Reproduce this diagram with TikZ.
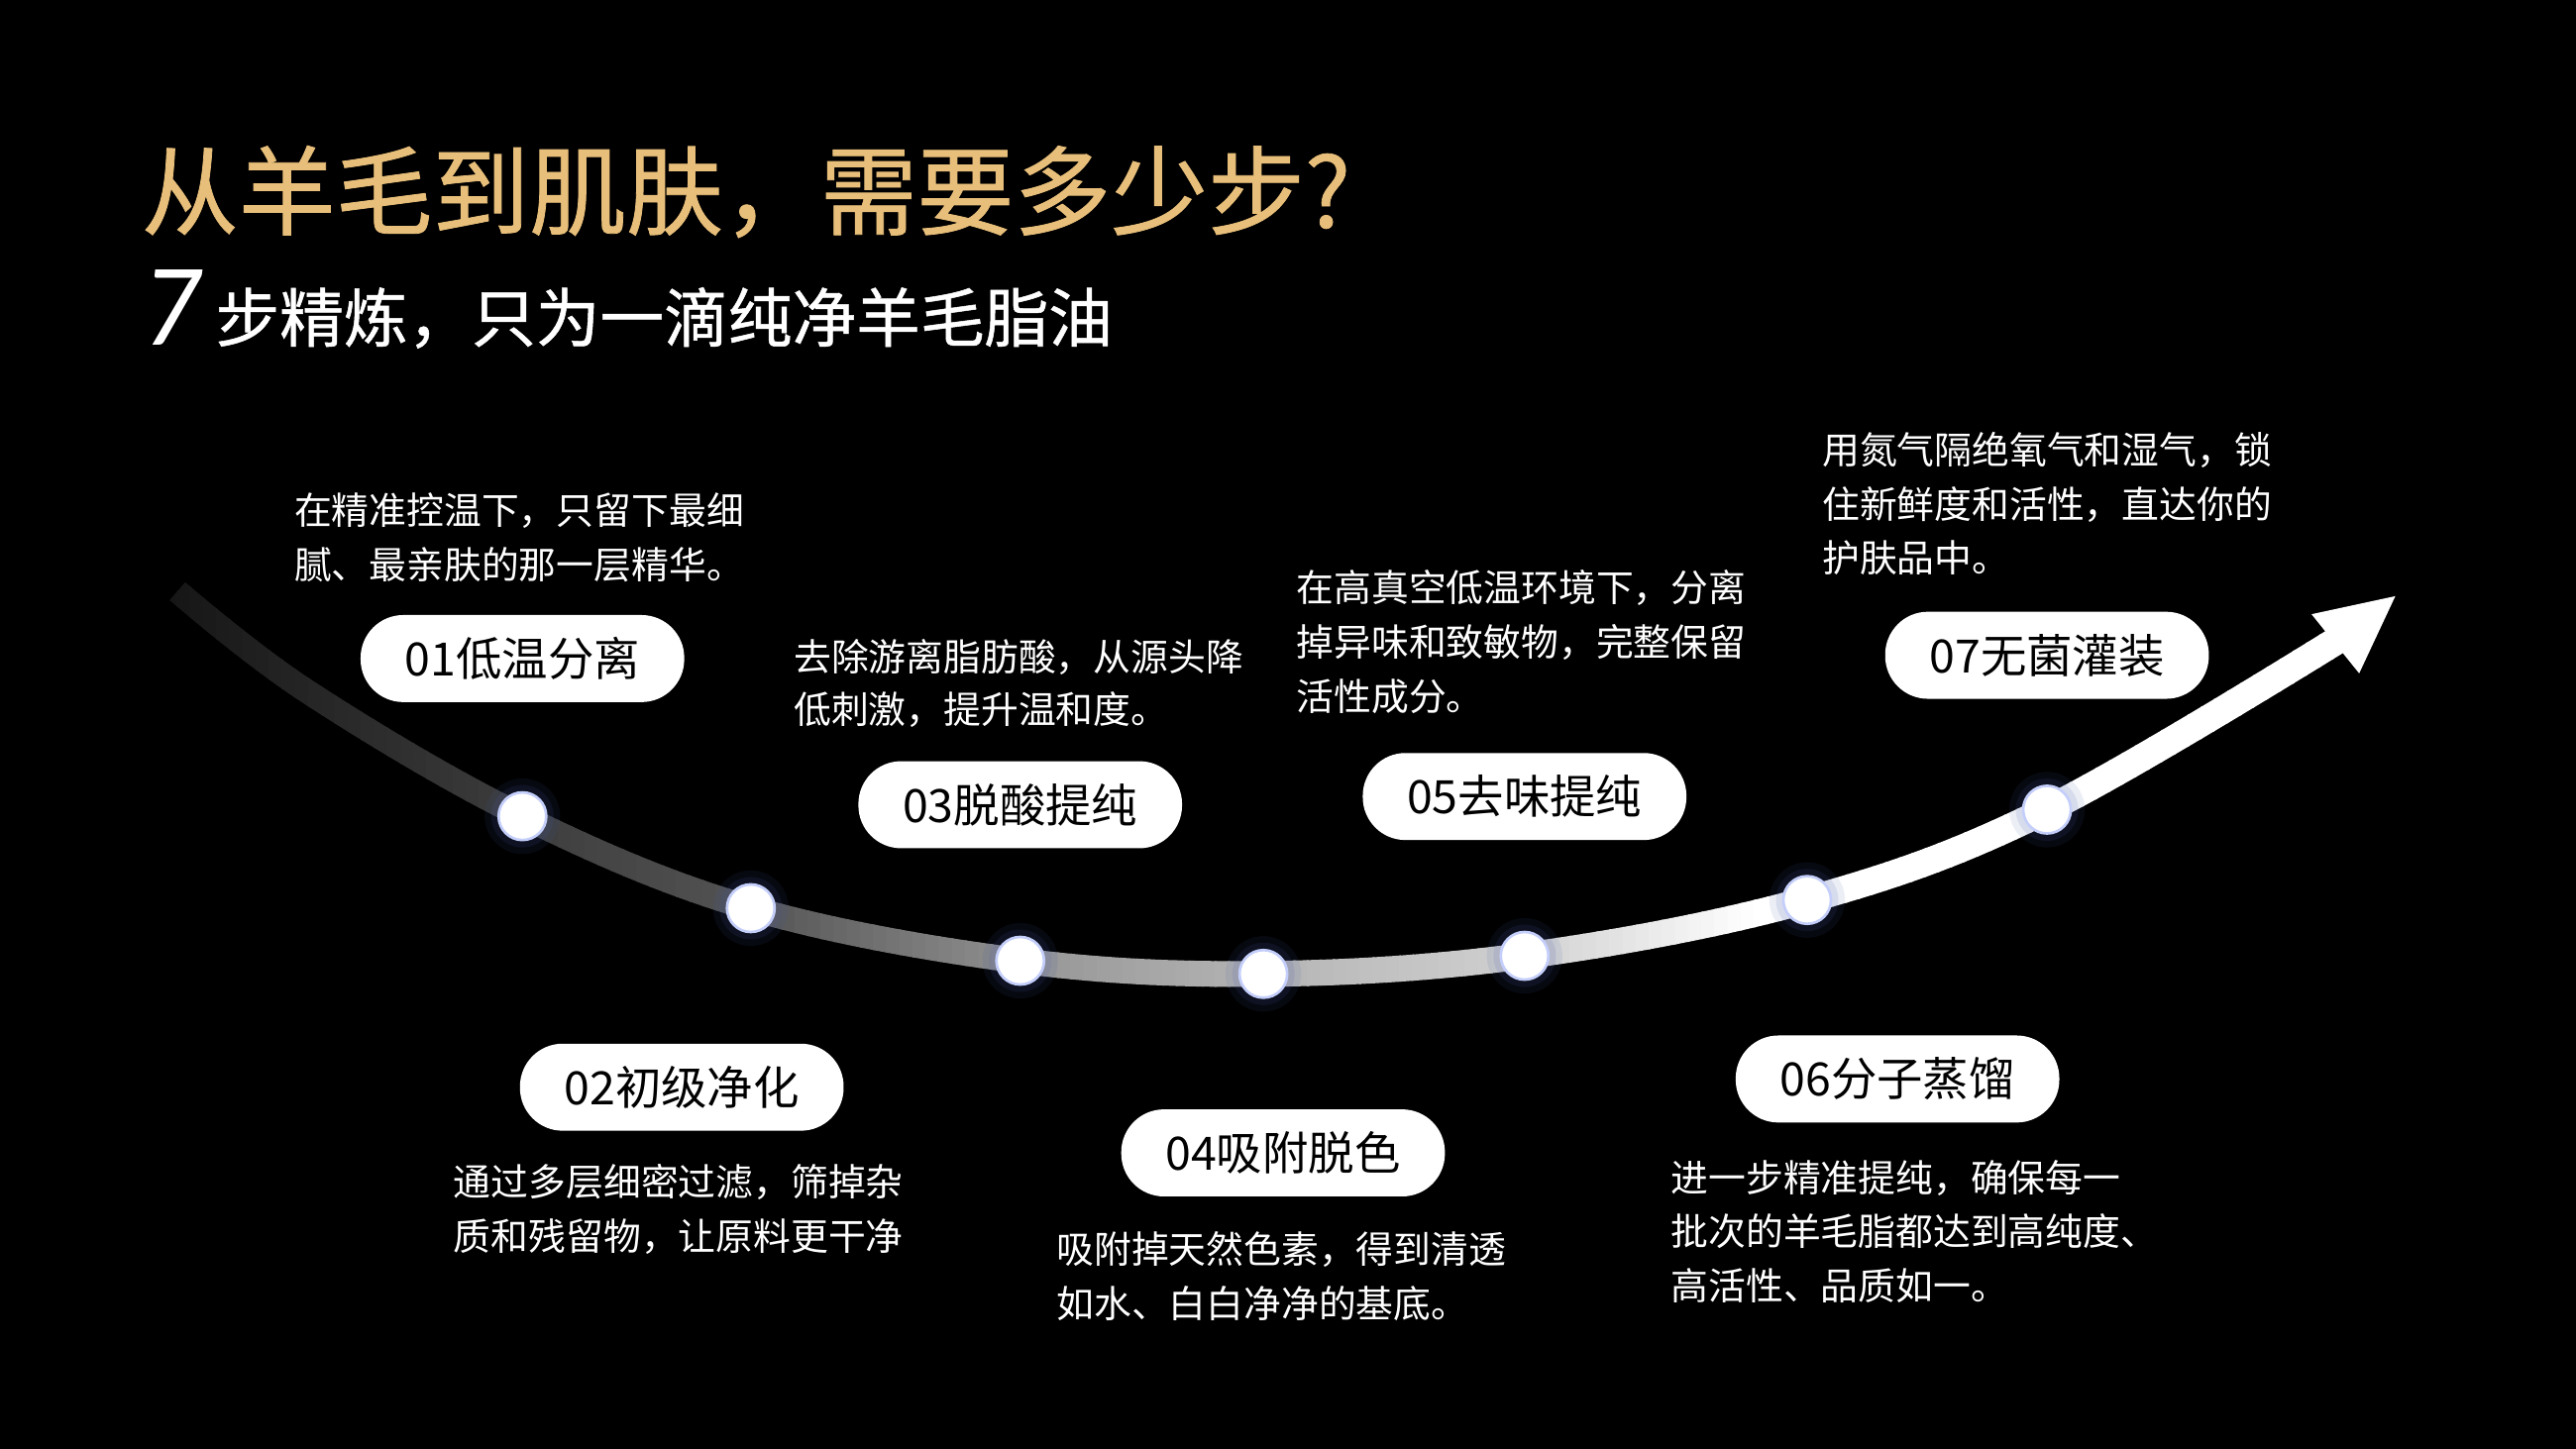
\documentclass[tikz,border=0pt]{standalone}
\usepackage{fontspec}
\newfontfamily\cjk{Noto Sans CJK SC}
\newfontfamily\cjkmed{Noto Sans CJK SC}[FakeBold=0.8]
\newfontfamily\latof{Lato}
\definecolor{gold}{HTML}{E8BF7A}
\definecolor{rim}{RGB}{196,206,250}
\definecolor{glowc}{RGB}{70,90,170}
\tikzset{
  dot/.style={circle, fill=white, draw=rim, line width=1.6pt, minimum size=29pt, inner sep=0pt},
  pill/.style={fill=white, rounded corners=26pt, minimum width=197pt, minimum height=53pt, inner sep=0pt, text=black, font=\cjk\fontsize{28}{28}\selectfont},
  desc/.style={anchor=base west, inner sep=0pt, text=white, font=\cjk\fontsize{22.8}{33}\selectfont},
}
\def\mycurve{plot[smooth,tension=0.6] coordinates {(108,360) (187,421) (318,497) (457,553) (621,585) (769,593) (928,582) (1100,548) (1246,493) (1432,384)}}
\begin{document}
\begin{tikzpicture}[x=1pt,y=-1pt]
\useasboundingbox (0,0) rectangle (1568,882);
\fill[black] (0,0) rectangle (1568,882);

% gradient band
\foreach \xa in {100,108,...,1470}{
  \pgfmathsetmacro\g{\xa<318 ? 0.09+0.15*(\xa-105)/213 : (\xa<457 ? 0.24+0.09*(\xa-318)/139 : (\xa<637 ? 0.33+0.27*(\xa-457)/180 : (\xa<769 ? 0.6+0.11*(\xa-637)/132 : (\xa<928 ? 0.71+0.11*(\xa-769)/159 : min(1,0.82+0.16*(\xa-928)/122)))))}
  \pgfmathsetmacro\w{14.5+2.5*min(1,(\xa-105)/1320)}
  \definecolor{stripc}{gray}{\g}
  \begin{scope}
    \clip (\xa-0.6,0) rectangle (\xa+8.6,882);
    \draw[stripc, line width=\w pt] \mycurve;
  \end{scope}
}
% arrow head
\fill[white] (1458,363) -- (1407,374) -- (1436,410) -- cycle;

% dots
\foreach \n/\p in {1/{(318,497)},2/{(457,553)},3/{(621,585)},4/{(769,593)},5/{(928,582)},6/{(1100,548)},7/{(1246,493)}}{
  \fill[glowc, opacity=0.10] \p circle (23);
  \fill[glowc, opacity=0.12] \p circle (19);
  \node[dot] (d\n) at \p {};
}

% title
\node[anchor=base west, inner sep=0pt, text=gold, font=\cjkmed\fontsize{59}{59}\selectfont] (title) at (86,138.5) {从羊毛到肌肤，需要多少步?};
\node[anchor=base west, inner sep=0pt, text=white, font=\latof\itshape\fontsize{64}{64}\selectfont] (seven) at (87,210) {7};
\node[anchor=base west, inner sep=0pt, text=white, font=\cjkmed\fontsize{39}{39}\selectfont] (sub) at (131,208) {步精炼，只为一滴纯净羊毛脂油};

% pills
\node[pill] (p1) at (318,401) {01低温分离};
\node[pill] (p2) at (415,662) {02初级净化};
\node[pill] (p3) at (621,490) {03脱酸提纯};
\node[pill] (p4) at (781,702) {04吸附脱色};
\node[pill] (p5) at (928,485) {05去味提纯};
\node[pill] (p6) at (1155,657) {06分子蒸馏};
\node[pill] (p7) at (1246,399) {07无菌灌装};

% descriptions
\node[desc] (t1a) at (179,319.5) {在精准控温下，只留下最细};
\node[desc] (t1b) at (179,352.5) {腻、最亲肤的那一层精华。};
\node[desc] (t2a) at (276,728.5) {通过多层细密过滤，筛掉杂};
\node[desc] (t2b) at (276,761.5) {质和残留物，让原料更干净};
\node[desc] (t3a) at (483,408.5) {去除游离脂肪酸，从源头降};
\node[desc] (t3b) at (483,440.5) {低刺激，提升温和度。};
\node[desc] (t4a) at (643,769.5) {吸附掉天然色素，得到清透};
\node[desc] (t4b) at (643,802.5) {如水、白白净净的基底。};
\node[desc] (t5a) at (789,366.5) {在高真空低温环境下，分离};
\node[desc] (t5b) at (789,399.5) {掉异味和致敏物，完整保留};
\node[desc] (t5c) at (789,432.5) {活性成分。};
\node[desc] (t6a) at (1017,725.5) {进一步精准提纯，确保每一};
\node[desc] (t6b) at (1017,758.5) {批次的羊毛脂都达到高纯度、};
\node[desc] (t6c) at (1017,791.5) {高活性、品质如一。};
\node[desc] (t7a) at (1109,282.5) {用氮气隔绝氧气和湿气，锁};
\node[desc] (t7b) at (1109,315.5) {住新鲜度和活性，直达你的};
\node[desc] (t7c) at (1109,348.5) {护肤品中。};
\end{tikzpicture}
\end{document}
